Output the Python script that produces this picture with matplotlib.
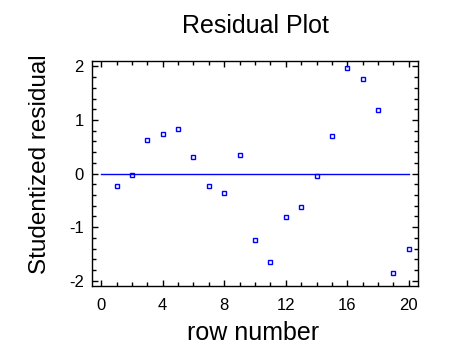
import numpy as np
import matplotlib
matplotlib.use("Agg")
import matplotlib.pyplot as plt
from matplotlib.ticker import MultipleLocator

plt.rcParams['font.family'] = ['Liberation Sans', 'DejaVu Sans']
plt.rcParams['axes.unicode_minus'] = False

# studentized residuals
rows = [1, 2, 3, 4, 5, 6, 7, 8, 9, 10, 11, 12, 13, 14, 15, 16, 17, 18, 19, 20]
resid = [-0.23, -0.03, 0.63, 0.74, 0.83, 0.31, -0.23, -0.36, 0.35, -1.24,
         -1.66, -0.81, -0.62, -0.04, 0.70, 1.97, 1.76, 1.19, -1.85, -1.40]
x_ticks = [0, 4, 8, 12, 16, 20]
y_ticks = [-2, -1, 0, 1, 2]

fig = plt.figure(figsize=(4.73, 3.61), dpi=100)
ax = fig.add_axes([92/473, 1 - 286/361, 326/473, 225/361])

ax.plot([0, 20], [0, 0], color='blue', lw=1)
ax.plot(rows, resid, 's', ms=3, mfc='none', mec='blue', mew=1)

ax.set_xlim(-0.6, 20.6)
ax.set_ylim(-2.1, 2.1)
ax.set_xticks(x_ticks)
ax.set_yticks(y_ticks)
ax.xaxis.set_minor_locator(MultipleLocator(1))
ax.yaxis.set_minor_locator(MultipleLocator(0.2))
ax.tick_params(which='both', direction='in', top=True, right=True, width=1, labelsize=12)
ax.tick_params(which='major', length=4.5)
ax.tick_params(which='minor', length=3)
ax.tick_params(axis='x', pad=9)
ax.tick_params(axis='y', pad=6)
for s in ax.spines.values():
    s.set_linewidth(1)

fig.text(255/473, 1 - 26/361, 'Residual Plot', ha='center', va='center', fontsize=18)
fig.text(253/473, 1 - 333/361, 'row number', ha='center', va='center', fontsize=18)
fig.text(40/473, 1 - 164/361, 'Studentized residual', ha='center', va='center',
         rotation=90, fontsize=17.5)

fig.savefig('out.png', dpi=100)
